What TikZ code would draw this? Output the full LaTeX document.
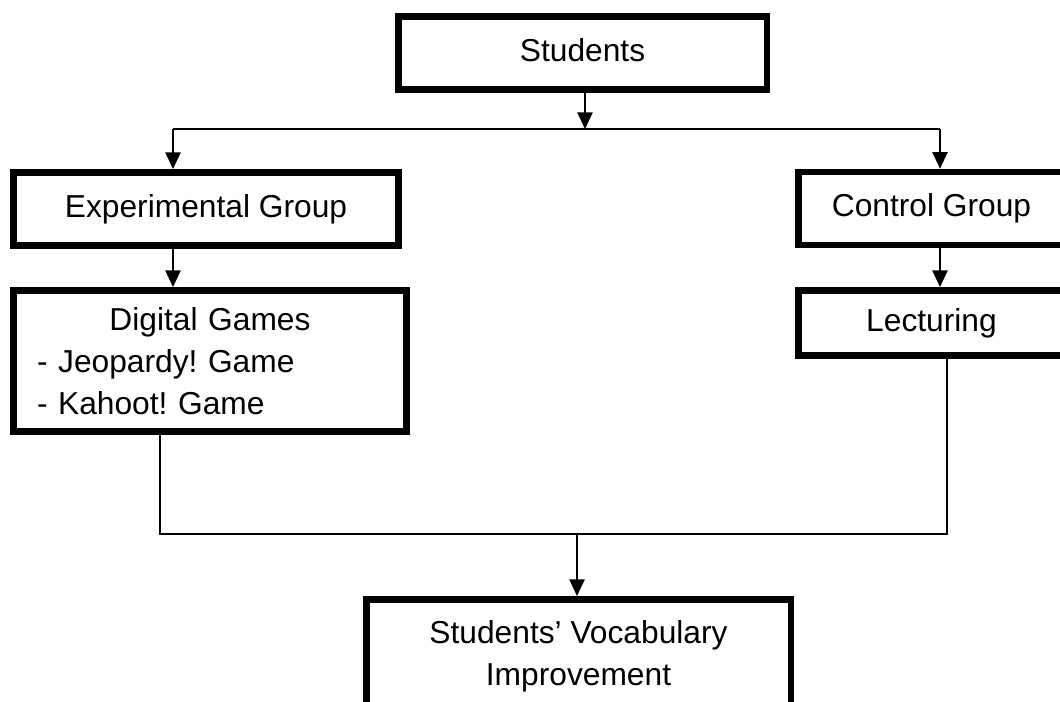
\documentclass[tikz,border=0pt]{standalone}
\usepackage{fontspec}
\setmainfont{Liberation Sans}
\usetikzlibrary{arrows.meta}
\frenchspacing
\begin{document}
\begin{tikzpicture}[x=0.75pt,y=-0.75pt,
  box/.style={draw=black, line width=4.9pt, inner sep=0pt, align=center,
    font=\fontsize{23.8}{31.5}\selectfont},
  conn/.style={line width=1.1pt, draw=black},
  arr/.style={conn, -{Triangle[length=12.5pt,width=11.5pt]}}]
\useasboundingbox (0,0) rectangle (1060,702);
\clip (0,0) rectangle (1060,702);
% boxes
\node[box, minimum width=276.4pt, minimum height=55.1pt] (students) at (582.5,53) {Students\vphantom{g}};
\node[box, minimum width=289.1pt, minimum height=55.1pt] (exp) at (206,209) {Experimental Group};
\node[box, minimum width=199.9pt, minimum height=54.8pt] (ctrl) at (931.5,208.5) {Control Group};
\node[box, minimum width=295.1pt, minimum height=106.1pt, align=left, text width=259.5pt] (dig) at (210,361)
  {\makebox[259.5pt]{Digital Games}\\- Jeopardy! Game\\- Kahoot! Game};
\node[box, minimum width=199.9pt, minimum height=49.1pt] (lect) at (931.5,323) {Lecturing};
\node[box, minimum width=318.4pt, minimum height=85.1pt] (final) at (578.5,656) {Students’ Vocabulary\\Improvement};
% junction coordinates
\coordinate (tj) at (585,129);
\coordinate (tl) at (173,129);
\coordinate (tr) at (940,129);
\coordinate (bl) at (160,534);
\coordinate (br) at (947,534);
\coordinate (bm) at (577,534);
% connectors
\draw[arr] (students.south -| tj) -- (tj);
\draw[conn] (tl) -- (tr);
\draw[arr] (tl) -- (tl |- exp.north);
\draw[arr] (tr) -- (tr |- ctrl.north);
\draw[arr] (exp.south -| tl) -- (tl |- dig.north);
\draw[arr] (ctrl.south -| tr) -- (tr |- lect.north);
\draw[conn] (dig.south -| bl) -- (bl) -- (br) -- (lect.south -| br);
\draw[arr] (bm) -- (bm |- final.north);
\end{tikzpicture}
\end{document}
